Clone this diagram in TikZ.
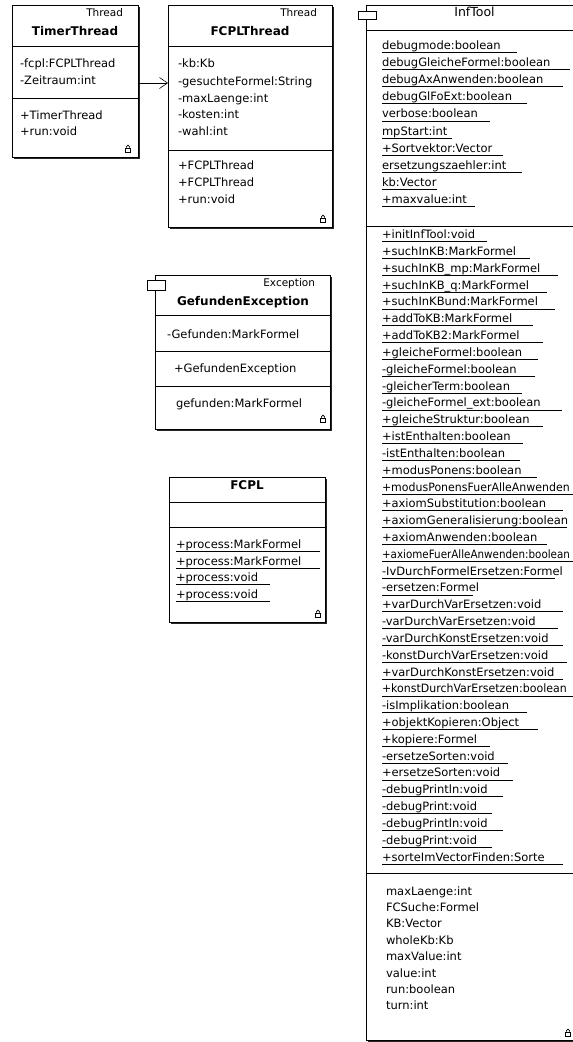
\documentclass[tikz,border=0pt]{standalone}
\usepackage{fontspec}
\setmainfont{DejaVu Sans}
\usetikzlibrary{arrows.meta}
\newcommand{\squeezeA}[1]{\scalebox{0.9}[1]{#1}}
\newcommand{\squeezeB}[1]{\scalebox{0.955}[1]{#1}}
\tikzset{
  lockicon/.pic={
    \draw[line width=0.6pt,fill=white] (-2.5,-4) rectangle (2.5,0);
    \draw[line width=0.6pt] (-1.6,-4) -- (-1.6,-5.3) arc[start angle=180,end angle=360,radius=1.6] -- (1.6,-4);
  }
}
\begin{document}
\begin{tikzpicture}[x=1pt,y=-1pt,
  every node/.style={inner sep=0pt,outer sep=0pt},
  classbox/.style={draw=black,fill=white,line width=0.8pt,anchor=north west},
  shadowbox/.style={fill=black!85},
  membertext/.style={anchor=base west,font=\fontsize{11.5}{13}\selectfont},
  clstitle/.style={anchor=base,font=\fontsize{12}{14}\selectfont\bfseries},
  clsname/.style={anchor=base,font=\fontsize{12.5}{14}\selectfont},
  clsstereo/.style={anchor=base east,font=\fontsize{10.5}{12}\selectfont},
  divider/.style={line width=0.8pt},
  uline/.style={line width=0.7pt},
  tabicon/.style={draw=black,fill=white,line width=0.8pt,anchor=north west},
  assoc/.style={-{Straight Barb[length=8pt,width=11pt]},line width=0.6pt}
]
\useasboundingbox (0,0) rectangle (573,1042);
\fill[white] (0,0) rectangle (573,1042);
\clip (0,0) rectangle (573,1042);

% ---------------- TimerThread
\fill[shadowbox] (14,7) rectangle (140,159);
\node[classbox,minimum width=126pt,minimum height=152pt] (timer) at (12,5) {};
\node[clsstereo] (timerst) at (123,16.5) {Thread};
\node[clstitle] (timert) at (75,35) {TimerThread};
\draw[divider] (timer.west|-0,46) -- (timer.east|-0,46);
\node[membertext] (timera1) at (20,67) {-fcpl:FCPLThread};
\node[membertext] (timera2) at (20,84) {-Zeitraum:int};
\draw[divider] (timer.west|-0,98) -- (timer.east|-0,98);
\node[membertext] (timerm1) at (20,119) {+TimerThread};
\node[membertext] (timerm2) at (20,135) {+run:void};
\pic at (128,152) {lockicon};

% ---------------- FCPLThread
\fill[shadowbox] (170,7) rectangle (334,229);
\node[classbox,minimum width=164pt,minimum height=222pt] (fcplt) at (168,5) {};
\node[clsstereo] (fcpltst) at (317,16.5) {Thread};
\node[clstitle] (fcpltt) at (250,35) {FCPLThread};
\draw[divider] (fcplt.west|-0,46) -- (fcplt.east|-0,46);
\node[membertext] (fcplta1) at (178,67.5) {-kb:Kb};
\node[membertext] (fcplta2) at (178,85) {-gesuchteFormel:String};
\node[membertext] (fcplta3) at (178,102) {-maxLaenge:int};
\node[membertext] (fcplta4) at (178,118.5) {-kosten:int};
\node[membertext] (fcplta5) at (178,135) {-wahl:int};
\draw[divider] (fcplt.west|-0,150) -- (fcplt.east|-0,150);
\node[membertext] (fcpltm1) at (178,169) {+FCPLThread};
\node[membertext] (fcpltm2) at (178,186) {+FCPLThread};
\node[membertext] (fcpltm3) at (178,203) {+run:void};
\pic at (323,222) {lockicon};

% association
\draw[assoc] (timer.east|-0,83) -- (fcplt.west|-0,83);

% ---------------- GefundenException
\fill[shadowbox] (157,277) rectangle (332,431);
\node[classbox,minimum width=175pt,minimum height=154pt] (gef) at (155,275) {};
\node[tabicon,minimum width=18pt,minimum height=10pt] (gefic) at (147,280) {};
\node[clsstereo] (gefst) at (315,286.5) {Exception};
\node[clstitle] (geft) at (243,305) {GefundenException};
\draw[divider] (gef.west|-0,315) -- (gef.east|-0,315);
\node[membertext] (gefa1) at (167,338) {-Gefunden:MarkFormel};
\draw[divider] (gef.west|-0,351) -- (gef.east|-0,351);
\node[membertext] (gefm1) at (174,372.5) {+GefundenException};
\draw[divider] (gef.west|-0,386) -- (gef.east|-0,386);
\node[membertext] (gefp1) at (176,407) {gefunden:MarkFormel};
\pic at (323,422) {lockicon};

% ---------------- FCPL
\fill[shadowbox] (171,479) rectangle (327,624);
\node[classbox,minimum width=156pt,minimum height=145pt] (fcpl) at (169,477) {};
\node[clstitle] (fcplt1) at (247,489) {FCPL};
\draw[divider] (fcpl.west|-0,502) -- (fcpl.east|-0,502);
\draw[divider] (fcpl.west|-0,527) -- (fcpl.east|-0,527);
\foreach \t/\e [count=\i from 0] in {+process:MarkFormel/320,+process:MarkFormel/320,+process:void/270,+process:void/270}{
  \node[membertext] (fcplm\i) at (176,{548.7+16.5*\i}) {\t};
  \draw[uline] (176,{551.7+16.5*\i}) -- (\e,{551.7+16.5*\i});
}
\pic at (318,617) {lockicon};

% ---------------- InfTool
\fill[shadowbox] (368,7) rectangle (585,1042);
\node[classbox,minimum width=217pt,minimum height=1035pt] (inf) at (366,5) {};
\node[tabicon,minimum width=18pt,minimum height=8pt] (infic) at (358,11) {};
\node[clsname] (inft) at (474.5,16.5) {InfTool};
\draw[divider] (inf.west|-0,30) -- (inf.east|-0,30);
\foreach \t/\e [count=\i from 0] in {
  debugmode:boolean/517,
  debugGleicheFormel:boolean/570,
  debugAxAnwenden:boolean/563,
  debugGlFoExt:boolean/527,
  verbose:boolean/490,
  mpStart:int/452,
  +Sortvektor:Vector/503,
  ersetzungszaehler:int/522,
  kb:Vector/437,
  +maxvalue:int/475}{
  \node[membertext] (infa\i) at (382,{49.3+17.15*\i}) {\t};
  \draw[uline] (382,{52.3+17.15*\i}) -- (\e,{52.3+17.15*\i});
}
\draw[divider] (inf.west|-0,226.7) -- (inf.east|-0,226.7);
\foreach \t/\e [count=\i from 0] in {
  +initInfTool:void/487,
  +suchInKB:MarkFormel/530,
  +suchInKB\_mp:MarkFormel/558,
  +suchInKB\_q:MarkFormel/547,
  +suchInKBund:MarkFormel/555,
  +addToKB:MarkFormel/533,
  +addToKB2:MarkFormel/543,
  +gleicheFormel:boolean/538,
  -gleicheFormel:boolean/535,
  -gleicherTerm:boolean/522,
  -gleicheFormel\_ext:boolean/562,
  +gleicheStruktur:boolean/543,
  +istEnthalten:boolean/523,
  -istEnthalten:boolean/520,
  +modusPonens:boolean/537,
  \squeezeB{+modusPonensFuerAlleAnwenden}/590,
  +axiomSubstitution:boolean/563,
  +axiomGeneralisierung:boolean/567,
  +axiomAnwenden:boolean/547,
  \squeezeA{+axiomeFuerAlleAnwenden:boolean}/590,
  -IvDurchFormelErsetzen:Formel/555,
  -ersetzen:Formel/473,
  +varDurchVarErsetzen:void/563,
  -varDurchVarErsetzen:void/558,
  -varDurchKonstErsetzen:void/563,
  -konstDurchVarErsetzen:void/567,
  +varDurchKonstErsetzen:void/563,
  \squeezeB{+konstDurchVarErsetzen:boolean}/590,
  -isImplikation:boolean/527,
  +objektKopieren:Object/538,
  +kopiere:Formel/490,
  -ersetzeSorten:void/508,
  +ersetzeSorten:void/513,
  -debugPrintln:void/503,
  -debugPrint:void/492,
  -debugPrintln:void/503,
  -debugPrint:void/492,
  +sorteImVectorFinden:Sorte/563}{
  \node[membertext] (infm\i) at (382,{238.7+16.82*\i}) {\t};
  \draw[uline] (382,{241.7+16.82*\i}) -- (\e,{241.7+16.82*\i});
}
\draw[divider] (inf.west|-0,873) -- (inf.east|-0,873);
\foreach \t [count=\i from 0] in {maxLaenge:int,FCSuche:Formel,KB:Vector,wholeKb:Kb,maxValue:int,value:int,run:boolean,turn:int}{
  \node[membertext] (infv\i) at (386,{895+16.4*\i}) {\t};
}
\pic at (568,1036) {lockicon};
\end{tikzpicture}
\end{document}
